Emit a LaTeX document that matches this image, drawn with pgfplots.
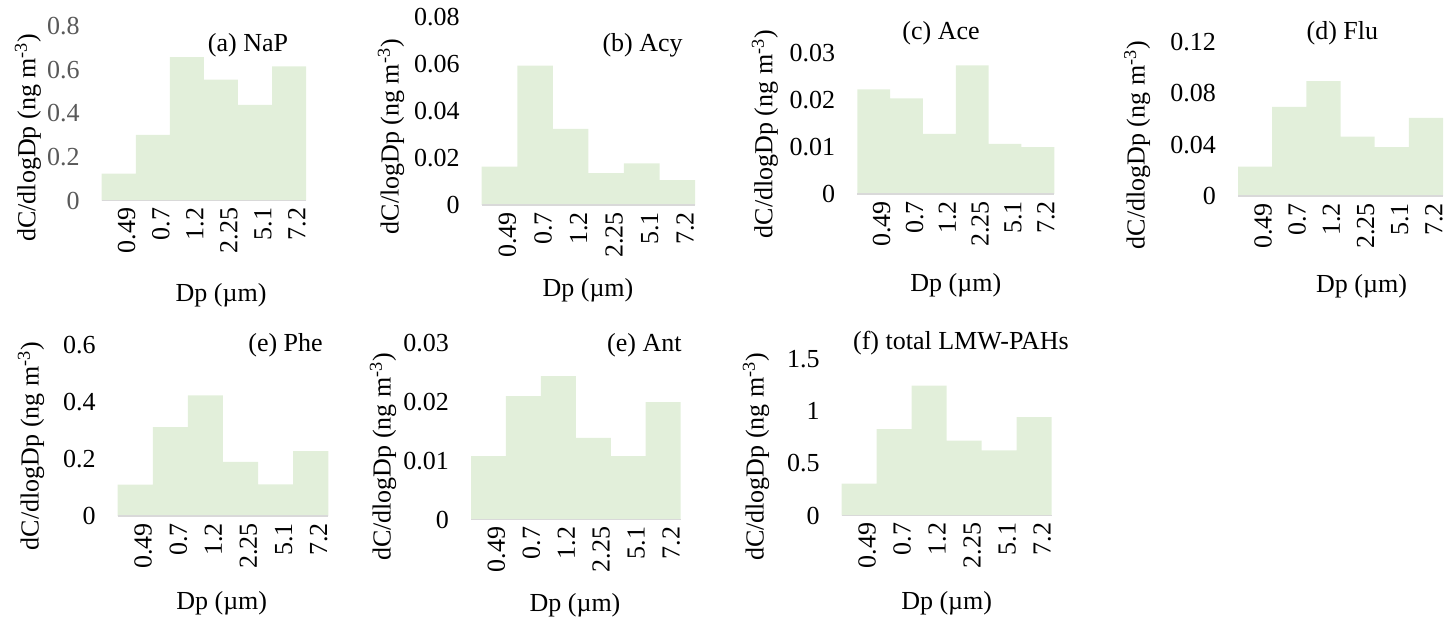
\documentclass[border=0pt]{standalone}
\usepackage{fontspec}
\setmainfont{Liberation Serif}
\usepackage{pgfplots}
\pgfplotsset{compat=1.18}

\definecolor{barfill}{RGB}{226,239,218}
\definecolor{basegray}{RGB}{217,217,217}
\definecolor{greytick}{RGB}{89,89,89}

\newcommand{\chartfont}{\fontsize{13}{15}\selectfont}

\pgfplotsset{
  panel/.style={
    scale only axis,
    anchor=south west,
    xmin=-0.5, xmax=5.5, ymin=0,
    axis line style={draw=none},
    major tick length=0pt,
    tick style={draw=none},
    scaled y ticks=false,
    clip=false,
    xtick={0,...,5},
    xticklabels={0.49,0.7,1.2,2.25,5.1,7.2},
    tick label style={font=\chartfont},
    xticklabel style={rotate=90, anchor=east, yshift=-4pt},
    yticklabel style={xshift=-7.5pt},
    label style={font=\chartfont},
    xlabel={Dp (µm)},
  },
  ypos/.style 2 args={ylabel style={at={(axis description cs:#1,#2)}, anchor=center, rotate=0}},
  xpos/.style 2 args={xlabel style={at={(axis description cs:#1,#2)}, anchor=center}},
}

% step-like size distribution drawn as contiguous bars
\newcommand{\sizebars}[1]{%
  \addplot[ybar, bar width=1, bar shift=0pt, fill=barfill, draw=none] coordinates {#1};
  \draw[basegray, line width=0.8pt] (axis cs:-0.5,0) -- (axis cs:5.5,0);
}

\begin{document}
\begin{tikzpicture}
\path[use as bounding box] (0,0) rectangle (723pt,310.5pt);

% (a) NaP
\begin{axis}[panel, at={(50.85pt,210.15pt)}, width=102.2pt, height=87.2pt,
  ymax=0.8, ytick={0,0.2,0.4,0.6,0.8}, yticklabels={0,0.2,0.4,0.6,0.8},
  yticklabel style={text=greytick},
  ylabel={dC/dlogDp (ng m\textsuperscript{-3})},
  ypos={-0.361}{0.362}, xpos={0.584}{-0.541}]
  \sizebars{(0,0.124) (1,0.302) (2,0.659) (3,0.555) (4,0.439) (5,0.616)}
  \node[font=\chartfont] at (axis description cs:0.716,0.893) {(a) NaP};
\end{axis}

% (b) Acy
\begin{axis}[panel, at={(240.85pt,208pt)}, width=106.7pt, height=94.2pt,
  ymax=0.08, ytick={0,0.02,0.04,0.06,0.08}, yticklabels={0,0.02,0.04,0.06,0.08},
  ylabel={dC/logDp (ng m\textsuperscript{-3})},
  ypos={-0.425}{0.363}, xpos={0.498}{-0.451}]
  \sizebars{(0,0.0163) (1,0.0592) (2,0.0323) (3,0.0135) (4,0.0177) (5,0.0106)}
  \node[font=\chartfont] at (axis description cs:0.754,0.85) {(b) Acy};
\end{axis}

% (c) Ace
\begin{axis}[panel, at={(428.65pt,213.5pt)}, width=98.5pt, height=70.35pt,
  ymax=0.03, ytick={0,0.01,0.02,0.03}, yticklabels={0,0.01,0.02,0.03},
  ylabel={dC/dlogDp (ng m\textsuperscript{-3})},
  ypos={-0.469}{0.426}, xpos={0.5}{-0.647}]
  \sizebars{(0,0.0223) (1,0.0204) (2,0.0128) (3,0.0274) (4,0.0107) (5,0.0100)}
  \node[font=\chartfont] at (axis description cs:0.425,1.144) {(c) Ace};
\end{axis}

% (d) Flu
\begin{axis}[panel, at={(619pt,212.5pt)}, width=102.5pt, height=77.15pt,
  ymax=0.12, ytick={0,0.04,0.08,0.12}, yticklabels={0,0.04,0.08,0.12},
  ylabel={dC/dlogDp (ng m\textsuperscript{-3})},
  ypos={-0.492}{0.33}, xpos={0.603}{-0.588}]
  \sizebars{(0,0.0228) (1,0.0694) (2,0.0894) (3,0.0461) (4,0.0381) (5,0.0607)}
  \node[font=\chartfont] at (axis description cs:0.509,1.056) {(d) Flu};
\end{axis}

% (e) Phe
\begin{axis}[panel, at={(58.85pt,52.5pt)}, width=105.3pt, height=85.5pt,
  ymax=0.6, ytick={0,0.2,0.4,0.6}, yticklabels={0,0.2,0.4,0.6},
  ylabel={dC/dlogDp (ng m\textsuperscript{-3})},
  ypos={-0.412}{0.41}, xpos={0.494}{-0.51}]
  \sizebars{(0,0.110) (1,0.312) (2,0.423) (3,0.190) (4,0.111) (5,0.228)}
  \node[font=\chartfont] at (axis description cs:0.797,1.0) {(e) Phe};
\end{axis}

% (e) Ant
\begin{axis}[panel, at={(235.5pt,50.75pt)}, width=104.85pt, height=88.1pt,
  ymax=0.03, ytick={0,0.01,0.02,0.03}, yticklabels={0,0.01,0.02,0.03},
  ylabel={dC/dlogDp (ng m\textsuperscript{-3})},
  ypos={-0.42}{0.356}, xpos={0.496}{-0.485}]
  \sizebars{(0,0.0108) (1,0.0210) (2,0.0244) (3,0.0139) (4,0.0108) (5,0.0200)}
  \node[font=\chartfont] at (axis description cs:0.827,0.99) {(e) Ant};
\end{axis}

% (f) total LMW-PAHs
\begin{axis}[panel, at={(420.85pt,52.75pt)}, width=105pt, height=78.1pt,
  ymax=1.5, ytick={0,0.5,1,1.5}, yticklabels={0,0.5,1,1.5},
  ylabel={dC/dlogDp (ng m\textsuperscript{-3})},
  ypos={-0.408}{0.376}, xpos={0.5}{-0.562}]
  \sizebars{(0,0.305) (1,0.830) (2,1.247) (3,0.718) (4,0.625) (5,0.945)}
  \node[font=\chartfont] at (axis description cs:0.568,1.104) {(f) total LMW-PAHs};
\end{axis}
\end{tikzpicture}
\end{document}
